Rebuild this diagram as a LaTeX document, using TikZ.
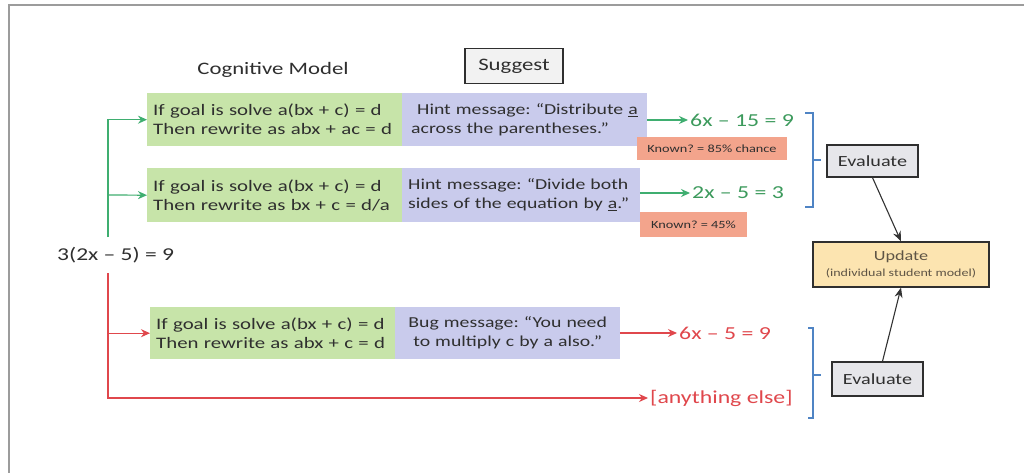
\documentclass[tikz,border=0pt]{standalone}
\usepackage{fontspec}
\setmainfont{Carlito}[FakeStretch=1.3]
\usetikzlibrary{arrows.meta}

\definecolor{ink}{HTML}{2F2F2F}
\definecolor{rulegreen}{HTML}{C7E4A9}
\definecolor{hintpurple}{HTML}{C9CBEC}
\definecolor{knownred}{HTML}{F3A48C}
\definecolor{eqgreen}{HTML}{3C9A5C}
\definecolor{arrowgreen}{HTML}{3FAE70}
\definecolor{bugred}{HTML}{E0474C}
\definecolor{braceblue}{HTML}{4F84C4}
\definecolor{evalgray}{HTML}{E6E6EA}
\definecolor{updatefill}{HTML}{FCE4B0}
\definecolor{updateink}{HTML}{5E5445}
\definecolor{framegray}{HTML}{9C9C9C}

\tikzset{
  rulebox/.style={fill=rulegreen, anchor=north west, inner xsep=6pt, inner ysep=0pt,
    align=left, text=ink, font=\fontsize{16}{19}\selectfont},
  msgbox/.style={fill=hintpurple, anchor=north west, inner xsep=7pt, inner ysep=0pt,
    text=ink, font=\fontsize{15.2}{19}\selectfont},
  knownbox/.style={fill=knownred, inner sep=0pt, text=ink, font=\fontsize{11}{13}\selectfont},
  goodeq/.style={anchor=west, inner sep=0pt, text=eqgreen, font=\fontsize{18.3}{22}\selectfont},
  badeq/.style={anchor=west, inner sep=0pt, text=bugred, font=\fontsize{18.3}{22}\selectfont},
  okarrow/.style={draw=arrowgreen, line width=1.2pt, -{Stealth[length=9pt,width=8pt]}},
  bugarrow/.style={draw=bugred, line width=1.2pt, -{Stealth[length=9pt,width=8pt]}},
  flowarrow/.style={draw=black!80, line width=1.1pt, -{Stealth[length=10pt,width=8pt]}},
  labelbox/.style={draw=ink, line width=1.3pt, text=ink, inner sep=0pt},
  brace/.style={draw=braceblue, line width=1.1pt}
}

\begin{document}
\frenchspacing
\begin{tikzpicture}[x=1pt,y=-1pt]
\useasboundingbox (0,0) rectangle (1024,473);
\fill[white] (0,0) rectangle (1024,473);

% outer frame (top and left edges)
\draw[framegray, line width=2pt] (9,473) -- (9,5) -- (1024,5);

% column headings
\node[text=ink, font=\fontsize{17.5}{20}\selectfont] (cm) at (273,70) {Cognitive Model};
\node[labelbox, fill=black!5, minimum width=98pt, minimum height=35pt,
      font=\fontsize{17.5}{20}\selectfont] (sug) at (514,66) {Suggest};

% correct rule 1
\node[rulebox, text width=243pt, minimum height=53pt] (g1) at (147,93)
  {If goal is solve a(bx + c) = d\\Then rewrite as abx + ac = d};
\node[msgbox, text width=227pt, minimum height=53pt, align=left, inner xsep=9pt] (m1) at (402,93)
  {\hspace*{6pt}Hint message: “Distribute \underline{a}\\across the parentheses.”};

% correct rule 2
\node[rulebox, text width=243pt, minimum height=54pt] (g2) at (147,168)
  {If goal is solve a(bx + c) = d\\Then rewrite as bx + c = d/a};
\node[msgbox, text width=226pt, minimum height=54pt, align=left, inner xsep=6pt] (m2) at (402,168)
  {Hint message: “Divide both\\sides of the equation by \underline{a}.”};

% buggy rule
\node[rulebox, text width=233pt, minimum height=52pt] (g3) at (150,307)
  {If goal is solve a(bx + c) = d\\Then rewrite as abx + c = d};
\node[msgbox, text width=215pt, minimum height=52pt, align=center, inner xsep=5pt] (m3) at (395,307)
  {Bug message: “You need\\to multiply c by a also.”};

% resulting steps
\node[goodeq] (r1) at (690,120) {6x – 15 = 9};
\node[goodeq] (r2) at (692,193) {2x – 5 = 3};
\node[badeq]  (r3) at (679,333) {6x – 5 = 9};
\node[badeq]  (r4) at (650,398) {[anything else]};

\node[knownbox, minimum width=150pt, minimum height=23pt] (k1) at (712,148.5) {Known? = 85\% chance};
\node[knownbox, minimum width=107pt, minimum height=25pt] (k2) at (693.5,224.5) {Known? = 45\%};

% problem statement
\node[anchor=west, inner sep=0pt, text=ink, font=\fontsize{18.1}{22}\selectfont] (prob) at (57,255) {3(2x – 5) = 9};

% branching connectors
\coordinate (gtop) at (108,237);
\coordinate (gmid) at (108,195);
\coordinate (rtop) at (108,273);
\draw[okarrow] (gtop) |- (g1.west);
\draw[okarrow] (gmid) -- (g2.west);
\draw[bugarrow] (rtop) |- (g3.west);
\draw[bugarrow, shorten >=2pt] (rtop) |- (r4.west);

\draw[okarrow, shorten >=2pt] (r1.west -| m1.east) -- (r1.west);
\draw[okarrow, shorten >=2pt] (r2.west -| m2.east) -- (r2.west);
\draw[bugarrow, shorten >=2pt] (r3.west -| m3.east) -- (r3.west);

% brackets grouping the outcomes
\draw[brace] (805,113) -- (813,113) -- (813,207) -- (805,207);
\draw[brace] (813,160) -- (821,160);
\draw[brace] (808,328) -- (813,328) -- (813,418) -- (808,418);
\draw[brace] (813,375) -- (821,375);

% evaluation and model update
\node[labelbox, fill=evalgray, minimum width=91pt, minimum height=32pt,
      font=\fontsize{15.5}{17}\selectfont] (e1) at (872.5,161) {Evaluate};
\node[labelbox, fill=evalgray, minimum width=91pt, minimum height=34pt,
      font=\fontsize{15.5}{17}\selectfont] (e2) at (877.5,379) {Evaluate};
\node[labelbox, fill=updatefill, text=updateink, minimum width=176pt, minimum height=45pt,
      align=center, font=\fontsize{14}{15}\selectfont] (up) at (901,264.5)
  {Update\\[1pt]{\fontsize{10.8}{13}\selectfont(individual student model)}};

\draw[flowarrow] (e1.south) -- (up.north);
\draw[flowarrow] ([xshift=5pt]e2.north) -- (up.south);
\end{tikzpicture}
\end{document}
